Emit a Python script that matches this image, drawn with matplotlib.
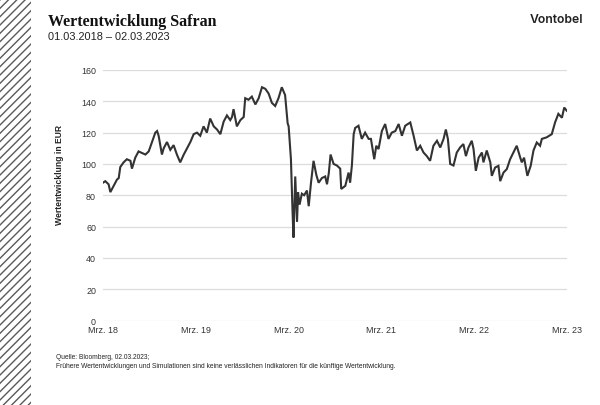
import datetime as dt

import matplotlib
matplotlib.use("Agg")
import matplotlib.pyplot as plt
from matplotlib.patches import Rectangle

# Safran share price in EUR
START = dt.date(2018, 3, 1)
END = dt.date(2023, 3, 2)
DAYS = [0, 9, 22, 29, 42, 55, 62, 68, 81, 94, 108, 114, 127, 140, 154, 167,
        180, 193, 206, 213, 219, 232, 239, 252, 265, 278, 291, 304, 318, 331,
        344, 357, 370, 383, 396, 409, 422, 436, 449, 462, 475, 488, 501, 508,
        514, 527, 541, 554, 560, 573, 586, 600, 613, 626, 639, 652, 665, 678,
        691, 704, 717, 727, 731, 740, 746, 750, 757, 764, 768, 774, 783, 792,
        803, 810, 819, 829, 840, 849, 862, 875, 882, 889, 896, 908, 921, 934,
        938, 954, 967, 973, 980, 987, 993, 1006, 1019, 1032, 1046, 1055, 1068,
        1076, 1085, 1098, 1111, 1124, 1137, 1151, 1164, 1177, 1190, 1210, 1223,
        1236, 1249, 1262, 1275, 1288, 1301, 1315, 1328, 1341, 1350, 1358, 1367,
        1380, 1393, 1406, 1419, 1429, 1439, 1452, 1459, 1468, 1479, 1492, 1498,
        1511, 1525, 1531, 1544, 1557, 1564, 1577, 1590, 1603, 1616, 1629, 1643,
        1649, 1658, 1671, 1684, 1695, 1708, 1721, 1728, 1747, 1767, 1780, 1793,
        1807, 1816, 1826]
PRICE = [88, 89, 87, 82, 86, 90, 91, 98, 101, 103, 102, 97, 104, 108, 107, 106,
         108, 114, 120, 121, 118, 106, 110, 114, 109, 112, 106, 101, 106, 110,
         114, 119, 120, 118, 124, 120, 129, 124, 122, 119, 127, 131, 128, 130,
         135, 124, 128, 130, 142, 141, 143, 138, 142, 149, 148, 145, 139, 137,
         142, 149, 144, 126, 124, 103, 71, 53, 92, 63, 82, 74, 81, 80,
         83, 73, 88, 102, 93, 88, 91, 92, 87, 94, 106, 100, 99, 97,
         84, 86, 94.5, 88, 99, 119, 123, 124.4, 116, 120, 116, 116, 103,
         111.6, 109.5, 121, 125.5, 116, 120, 121, 125.5, 118, 124.4, 126.5, 118,
         108.6, 111.6, 107.3, 105, 102, 111.6, 114.8, 110.5, 116, 122, 116, 100,
         99, 107.3, 110.5, 112.7, 105, 110.5, 114.8, 109.5, 95.6, 104, 107.3, 101,
         108.6, 101, 92.4, 97.7, 98.8, 89, 94.5, 96.7, 103, 107.3, 111.6, 104,
         101, 104, 92.4, 98.8, 108.6, 113.7, 111.6, 116, 117, 119, 126.5, 132,
         129.5, 136, 134]

Y_TICKS = [0, 20, 40, 60, 80, 100, 120, 140, 160]
X_TICK_YEARS = [2018, 2019, 2020, 2021, 2022, 2023]
X_TICK_LABELS = ["Mrz. 18", "Mrz. 19", "Mrz. 20", "Mrz. 21", "Mrz. 22", "Mrz. 23"]

SANS = ["Liberation Sans", "DejaVu Sans"]


def main():
    plt.rcParams["font.family"] = SANS
    plt.rcParams["hatch.linewidth"] = 1.0
    plt.rcParams["hatch.color"] = "#5a5a5a"

    fig = plt.figure(figsize=(6, 4.06), dpi=100)
    fig.patch.set_facecolor("white")

    # hatched strip on the left edge
    fig.patches.append(Rectangle((0, 0), 31 / 600, 1, transform=fig.transFigure,
                                 facecolor="white", edgecolor="#5a5a5a",
                                 linewidth=0, hatch="////", zorder=0))

    ax = fig.add_axes([103 / 600, 1 - 321.5 / 406, 464 / 600, 250.5 / 406])
    dates = [START + dt.timedelta(days=d) for d in DAYS]
    ax.plot(dates, PRICE, color="#333333", linewidth=1.5, solid_joinstyle="miter")

    ax.set_xlim(START, END)
    ax.set_ylim(0, 160)
    ax.set_yticks(Y_TICKS)
    ax.set_xticks([dt.date(y, 3, 1) for y in X_TICK_YEARS])
    ax.set_xticklabels(X_TICK_LABELS)
    ax.grid(axis="y", color="#dcdcdc", linewidth=0.9)
    ax.set_axisbelow(True)
    for s in ax.spines.values():
        s.set_visible(False)
    ax.tick_params(axis="both", length=0, labelsize=6.4, labelcolor="#333333")
    ax.tick_params(axis="y", pad=5)
    ax.tick_params(axis="x", pad=3)

    fig.text(60 / 600, 1 - 175 / 406, "Wertentwicklung in EUR", rotation=90,
             ha="center", va="center", fontsize=6.2, fontweight="bold", color="#222222")

    fig.text(48 / 600, 1 - 26.5 / 406, "Wertentwicklung Safran", ha="left", va="baseline",
             fontsize=11.5, fontweight="bold", family=["Liberation Serif", "DejaVu Serif"],
             color="#111111")
    fig.text(48 / 600, 1 - 39.5 / 406, "01.03.2018 \u2013 02.03.2023", ha="left",
             va="baseline", fontsize=7.9, color="#222222")
    fig.text(583 / 600, 1 - 22.7 / 406, "Vontobel", ha="right", va="baseline",
             fontsize=8.8, family=["Inter", "DejaVu Sans"], fontweight="semibold",
             color="#222222")

    fig.text(56 / 600, 1 - 358 / 406, "Quelle: Bloomberg, 02.03.2023;", ha="left",
             va="center", fontsize=4.75, color="#222222")
    fig.text(56 / 600, 1 - 367 / 406,
             "Frühere Wertentwicklungen und Simulationen sind keine verlässlichen "
             "Indikatoren für die künftige Wertentwicklung.",
             ha="left", va="center", fontsize=4.75, color="#222222")

    fig.savefig("out.png", dpi=100, facecolor="white")


if __name__ == "__main__":
    main()
